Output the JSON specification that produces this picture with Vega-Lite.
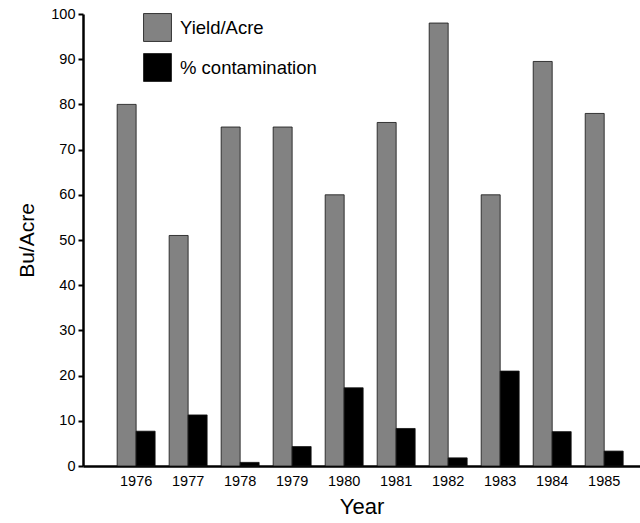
{
  "$schema": "https://vega.github.io/schema/vega-lite/v6.json",
  "width": 557,
  "height": 452,
  "autosize": "none",
  "padding": {"left": 83, "top": 14, "right": 0, "bottom": 57},
  "background": "white",
  "config": {
    "font": "Liberation Sans",
    "view": {"stroke": null}
  },
  "data": {
    "values": [
      {"year": "1976", "series": "Yield/Acre", "value": 80},
      {"year": "1977", "series": "Yield/Acre", "value": 51},
      {"year": "1978", "series": "Yield/Acre", "value": 75},
      {"year": "1979", "series": "Yield/Acre", "value": 75},
      {"year": "1980", "series": "Yield/Acre", "value": 60},
      {"year": "1981", "series": "Yield/Acre", "value": 76},
      {"year": "1982", "series": "Yield/Acre", "value": 98},
      {"year": "1983", "series": "Yield/Acre", "value": 60},
      {"year": "1984", "series": "Yield/Acre", "value": 89.5},
      {"year": "1985", "series": "Yield/Acre", "value": 78},
      {"year": "1976", "series": "% contamination", "value": 7.7},
      {"year": "1977", "series": "% contamination", "value": 11.3},
      {"year": "1978", "series": "% contamination", "value": 0.8},
      {"year": "1979", "series": "% contamination", "value": 4.3},
      {"year": "1980", "series": "% contamination", "value": 17.3},
      {"year": "1981", "series": "% contamination", "value": 8.3},
      {"year": "1982", "series": "% contamination", "value": 1.8},
      {"year": "1983", "series": "% contamination", "value": 21},
      {"year": "1984", "series": "% contamination", "value": 7.6},
      {"year": "1985", "series": "% contamination", "value": 3.3}
    ]
  },
  "mark": {"type": "bar", "stroke": "#111", "strokeWidth": 0.8},
  "encoding": {
    "x": {
      "field": "year",
      "type": "nominal",
      "scale": {"paddingInner": 0.27, "paddingOuter": 0.49, "align": 0.67},
      "axis": {
        "title": "Year",
        "titleFontSize": 22,
        "titleFontWeight": "normal",
        "titleColor": "black",
        "titlePadding": 9,
        "labelAngle": 0,
        "labelFontSize": 14.5,
        "labelColor": "black",
        "labelPadding": 8,
        "ticks": false,
        "domainColor": "black",
        "domainWidth": 2.5
      }
    },
    "xOffset": {
      "field": "series",
      "type": "nominal",
      "sort": ["Yield/Acre", "% contamination"],
      "scale": {"paddingInner": 0, "paddingOuter": 0}
    },
    "y": {
      "field": "value",
      "type": "quantitative",
      "scale": {"domain": [0, 100], "nice": false},
      "axis": {
        "title": "Bu/Acre",
        "titleFontSize": 21,
        "titleFontWeight": "normal",
        "titleColor": "black",
        "titlePadding": 13,
        "values": [0, 10, 20, 30, 40, 50, 60, 70, 80, 90, 100],
        "labelFontSize": 14.5,
        "labelColor": "black",
        "labelPadding": 3,
        "tickSize": 5,
        "tickWidth": 2,
        "tickColor": "black",
        "domainColor": "black",
        "domainWidth": 2.5,
        "grid": false
      }
    },
    "color": {
      "field": "series",
      "type": "nominal",
      "sort": ["Yield/Acre", "% contamination"],
      "scale": {"domain": ["Yield/Acre", "% contamination"], "range": ["#828282", "#000000"]},
      "legend": {
        "title": null,
        "orient": "none",
        "legendX": 60,
        "legendY": -1,
        "symbolType": "square",
        "symbolSize": 780,
        "symbolStrokeColor": "#111",
        "symbolStrokeWidth": 0.8,
        "labelFontSize": 18.5,
        "labelColor": "black",
        "labelOffset": 8,
        "rowPadding": 7
      }
    }
  }
}
